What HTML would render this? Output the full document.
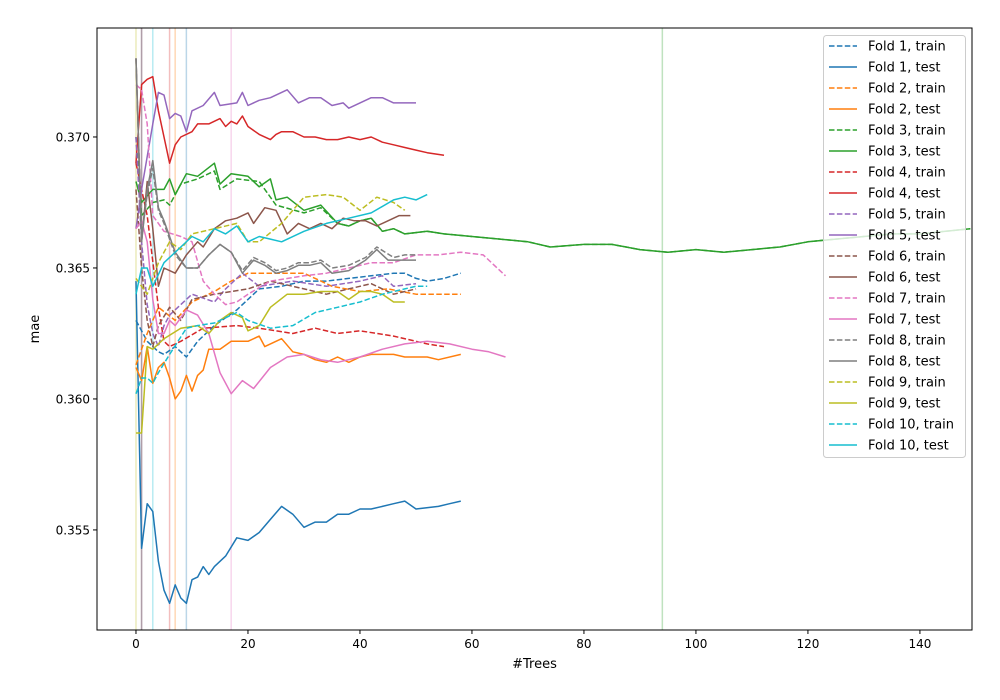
<!DOCTYPE html>
<html><head><meta charset="utf-8"><style>
html,body{margin:0;padding:0;background:#fff;}
svg{display:block;font-family:"DejaVu Sans","Liberation Sans",sans-serif;}
</style></head><body>
<svg id="chart" width="1000" height="700" viewBox="0 0 1000 700" xmlns="http://www.w3.org/2000/svg">
<rect width="1000" height="700" fill="#fff"/>
<g id="vlines"></g>
<g id="series"></g>
<g id="axes"></g>
<g id="legend"></g>
</svg>
<script>
const xTicks=[0,20,40,60,80,100,120,140];
const yTicks=[0.355,0.360,0.365,0.370];
const foldNames=["Fold 1","Fold 2","Fold 3","Fold 4","Fold 5","Fold 6","Fold 7","Fold 8","Fold 9","Fold 10"];
const bestIter=[9,7,94,6,1,1,17,1,0,3];
const f1TrainX=[0,2,4,5,7,9,11,14,18,22,26,30,34,38,42,46,48,50,52,55,58];
const f1TrainY=[0.3630,0.3622,0.3618,0.3617,0.3620,0.3616,0.3622,0.3628,0.3634,0.3642,0.3643,0.3645,0.3645,0.3646,0.3647,0.3648,0.3648,0.3646,0.3645,0.3646,0.3648];
const f1TestX=[0,1,2,3,4,5,6,7,8,9,10,11,12,13,14,16,18,20,22,24,26,28,30,32,34,36,38,40,42,44,46,48,50,54,56,58];
const f1TestY=[0.3645,0.3543,0.3560,0.3557,0.3538,0.3527,0.3522,0.3529,0.3524,0.3522,0.3531,0.3532,0.3536,0.3533,0.3536,0.3540,0.3547,0.3546,0.3549,0.3554,0.3559,0.3556,0.3551,0.3553,0.3553,0.3556,0.3556,0.3558,0.3558,0.3559,0.3560,0.3561,0.3558,0.3559,0.3560,0.3561];
const f2TrainX=[0,2,4,7,10,14,17,20,25,30,35,40,45,50,54,58];
const f2TrainY=[0.3613,0.3625,0.3635,0.3630,0.3637,0.3641,0.3645,0.3648,0.3648,0.3648,0.3643,0.3641,0.3642,0.3640,0.3640,0.3640];
const f2TestX=[0,1,2,3,4,5,6,7,8,9,10,11,12,13,15,17,20,22,23,26,28,30,32,34,36,38,40,42,44,46,48,52,54,58];
const f2TestY=[0.3612,0.3607,0.3620,0.3606,0.3612,0.3614,0.3608,0.3600,0.3603,0.3609,0.3603,0.3609,0.3611,0.3619,0.3619,0.3622,0.3622,0.3624,0.3620,0.3623,0.3618,0.3617,0.3615,0.3614,0.3616,0.3614,0.3616,0.3617,0.3617,0.3617,0.3616,0.3616,0.3615,0.3617];
const f3TrainX=[0,1,3,5,6,8,11,14,15,18,22,25,30,33,36,38,40,42,44,46,48,52,55,60,65,70,74,80,85,90,95,100,105,110,115,120,125,130,135,140,149];
const f3TrainY=[0.3700,0.3670,0.3675,0.3676,0.3674,0.3682,0.3684,0.3687,0.3680,0.3684,0.3683,0.3674,0.3671,0.3673,0.3667,0.3666,0.3668,0.3669,0.3664,0.3665,0.3663,0.3664,0.3663,0.3662,0.3661,0.3660,0.3658,0.3659,0.3659,0.3657,0.3656,0.3657,0.3656,0.3657,0.3658,0.3660,0.3661,0.3662,0.3663,0.3663,0.3665];
const f3TestX=[0,1,3,5,6,7,9,11,14,15,17,20,22,24,25,27,30,33,36,38,40,42,44,46,48,52,55,60,65,70,74,80,85,90,95,100,105,110,115,120,125,130,135,140,149];
const f3TestY=[0.3683,0.3675,0.3680,0.3680,0.3684,0.3678,0.3686,0.3685,0.3690,0.3682,0.3686,0.3685,0.3681,0.3684,0.3676,0.3677,0.3672,0.3674,0.3667,0.3666,0.3668,0.3669,0.3664,0.3665,0.3663,0.3664,0.3663,0.3662,0.3661,0.3660,0.3658,0.3659,0.3659,0.3657,0.3656,0.3657,0.3656,0.3657,0.3658,0.3660,0.3661,0.3662,0.3663,0.3663,0.3665];
const f4TrainX=[0,2,4,5,6,8,12,18,22,28,32,36,40,46,52,55];
const f4TrainY=[0.3690,0.3670,0.3635,0.3622,0.3620,0.3622,0.3627,0.3628,0.3627,0.3625,0.3627,0.3625,0.3626,0.3624,0.3621,0.3620];
const f4TestX=[0,1,2,3,4,5,6,7,8,10,11,13,15,16,17,18,19,20,22,24,25,26,28,30,32,34,36,38,40,42,44,46,48,50,52,55];
const f4TestY=[0.3690,0.3720,0.3722,0.3723,0.3710,0.3700,0.3690,0.3697,0.3700,0.3702,0.3705,0.3705,0.3707,0.3704,0.3706,0.3705,0.3708,0.3704,0.3701,0.3699,0.3701,0.3702,0.3702,0.3700,0.3700,0.3699,0.3699,0.3700,0.3699,0.3700,0.3698,0.3697,0.3696,0.3695,0.3694,0.3693];
const f5TrainX=[0,1,2,3,4,5,6,8,10,14,16,19,22,28,34,40,44,46,50];
const f5TrainY=[0.3700,0.3660,0.3636,0.3625,0.3620,0.3628,0.3632,0.3636,0.3640,0.3637,0.3642,0.3648,0.3643,0.3645,0.3643,0.3645,0.3647,0.3643,0.3644];
const f5TestX=[0,1,3,4,5,6,7,8,9,10,12,14,15,18,19,20,22,24,27,29,31,33,35,37,38,40,42,44,46,48,50];
const f5TestY=[0.3665,0.3680,0.3705,0.3717,0.3716,0.3707,0.3709,0.3708,0.3702,0.3710,0.3712,0.3717,0.3712,0.3713,0.3717,0.3712,0.3714,0.3715,0.3718,0.3713,0.3715,0.3715,0.3712,0.3713,0.3711,0.3713,0.3715,0.3715,0.3713,0.3713,0.3713];
const f6TrainX=[0,1,2,3,4,6,8,10,14,20,24,30,34,38,42,46,50];
const f6TrainY=[0.3680,0.3650,0.3630,0.3620,0.3628,0.3635,0.3630,0.3638,0.3640,0.3642,0.3645,0.3642,0.3640,0.3642,0.3644,0.3640,0.3642];
const f6TestX=[0,1,2,3,4,5,7,9,11,12,14,16,18,20,21,23,25,27,29,31,33,35,37,39,41,43,45,47,49];
const f6TestY=[0.3730,0.3660,0.3683,0.3665,0.3643,0.3650,0.3648,0.3655,0.3660,0.3658,0.3665,0.3668,0.3669,0.3671,0.3667,0.3673,0.3672,0.3663,0.3667,0.3665,0.3667,0.3665,0.3669,0.3668,0.3668,0.3666,0.3668,0.3670,0.3670];
const f7TrainX=[0,1,2,3,5,8,10,12,14,16,18,20,24,30,34,38,42,46,50,54,58,62,66];
const f7TrainY=[0.3720,0.3718,0.3705,0.3670,0.3664,0.3662,0.3660,0.3645,0.3640,0.3636,0.3637,0.3640,0.3645,0.3647,0.3648,0.3650,0.3652,0.3652,0.3655,0.3655,0.3656,0.3655,0.3647];
const f7TestX=[0,1,2,3,4,5,6,7,9,11,13,15,17,19,21,24,27,30,33,36,40,44,48,52,56,60,63,66];
const f7TestY=[0.3665,0.3668,0.3660,0.3638,0.3625,0.3625,0.3630,0.3628,0.3634,0.3632,0.3625,0.3610,0.3602,0.3607,0.3604,0.3612,0.3616,0.3617,0.3615,0.3614,0.3616,0.3619,0.3621,0.3622,0.3621,0.3619,0.3618,0.3616];
const f8TrainX=[0,1,2,3,4,5,7,9,11,13,15,17,19,21,23,25,27,29,31,33,35,38,41,43,46,48,50];
const f8TrainY=[0.3730,0.3662,0.3678,0.3688,0.3672,0.3667,0.3655,0.3650,0.3650,0.3655,0.3659,0.3656,0.3649,0.3654,0.3652,0.3649,0.3650,0.3652,0.3652,0.3653,0.3650,0.3651,0.3654,0.3658,0.3654,0.3655,0.3655];
const f8TestX=[0,1,2,3,4,5,7,9,11,13,15,17,19,21,23,25,27,29,31,33,35,38,41,43,45,48,50];
const f8TestY=[0.3730,0.3660,0.3680,0.3691,0.3673,0.3668,0.3656,0.3650,0.3650,0.3655,0.3659,0.3656,0.3648,0.3653,0.3651,0.3648,0.3649,0.3651,0.3651,0.3652,0.3648,0.3649,0.3653,0.3657,0.3653,0.3653,0.3653];
const f9TrainX=[0,2,4,6,8,10,14,18,20,22,26,30,34,37,40,43,46,48];
const f9TrainY=[0.3646,0.3640,0.3652,0.3660,0.3657,0.3663,0.3665,0.3667,0.3660,0.3660,0.3667,0.3677,0.3678,0.3677,0.3672,0.3677,0.3675,0.3672];
const f9TestX=[0,1,2,3,5,8,11,13,15,17,19,20,22,24,27,30,33,36,38,40,42,44,46,48];
const f9TestY=[0.3587,0.3587,0.3620,0.3619,0.3623,0.3627,0.3628,0.3625,0.3630,0.3633,0.3631,0.3626,0.3628,0.3635,0.3640,0.3640,0.3641,0.3641,0.3638,0.3641,0.3641,0.3640,0.3637,0.3637];
const f10TrainX=[0,1,2,3,4,6,9,11,14,18,20,24,28,32,36,40,44,48,50,52];
const f10TrainY=[0.3602,0.3608,0.3608,0.3606,0.3610,0.3617,0.3627,0.3628,0.3629,0.3633,0.3630,0.3627,0.3628,0.3633,0.3635,0.3637,0.3640,0.3642,0.3643,0.3643];
const f10TestX=[0,1,2,3,5,8,10,12,14,16,18,20,22,24,26,30,34,38,42,46,48,50,52];
const f10TestY=[0.3640,0.3650,0.3650,0.3643,0.3652,0.3658,0.3662,0.3660,0.3665,0.3663,0.3666,0.3660,0.3662,0.3661,0.3660,0.3664,0.3667,0.3669,0.3671,0.3676,0.3677,0.3676,0.3678];

const colors=["#1f77b4","#ff7f0e","#2ca02c","#d62728","#9467bd","#8c564b","#e377c2","#7f7f7f","#bcbd22","#17becf"];
const trainXs=[f1TrainX,f2TrainX,f3TrainX,f4TrainX,f5TrainX,f6TrainX,f7TrainX,f8TrainX,f9TrainX,f10TrainX];
const trainYs=[f1TrainY,f2TrainY,f3TrainY,f4TrainY,f5TrainY,f6TrainY,f7TrainY,f8TrainY,f9TrainY,f10TrainY];
const testXs=[f1TestX,f2TestX,f3TestX,f4TestX,f5TestX,f6TestX,f7TestX,f8TestX,f9TestX,f10TestX];
const testYs=[f1TestY,f2TestY,f3TestY,f4TestY,f5TestY,f6TestY,f7TestY,f8TestY,f9TestY,f10TestY];

const L=97,R=972,T=28,B=630;
const xMin=-6.96,xMax=149.3,yMin=0.35118,yMax=0.37416;
const sx=v=>L+(v-xMin)/(xMax-xMin)*(R-L);
const sy=v=>B-(v-yMin)/(yMax-yMin)*(B-T);
const NS="http://www.w3.org/2000/svg";
function mk(tag,attrs,parent){const e=document.createElementNS(NS,tag);for(const k in attrs)e.setAttribute(k,attrs[k]);parent.appendChild(e);return e;}

const gV=document.getElementById('vlines');
bestIter.forEach((b,i)=>{
  const l=mk('line',{x1:sx(b),x2:sx(b),y1:T,y2:B,stroke:colors[i],'stroke-opacity':0.3,'stroke-width':1.5},gV);
  
  
});

const gS=document.getElementById('series');
function drawLine(xs,ys,col,dash,name){
  const d=xs.map((x,j)=>(j?'L':'M')+sx(x).toFixed(1)+','+sy(ys[j]).toFixed(1)).join('');
  const p=mk('path',{d:d,fill:'none',stroke:col,'stroke-width':1.5,'stroke-linejoin':'round'},gS);
  if(dash)p.setAttribute('stroke-dasharray','5.5,2.4');
  
  
}
for(let i=0;i<10;i++){
  drawLine(trainXs[i],trainYs[i],colors[i],true,'fold-'+(i+1)+'-train-line');
  drawLine(testXs[i],testYs[i],colors[i],false,'fold-'+(i+1)+'-test-line');
}

const gA=document.getElementById('axes');
const frame=mk('rect',{x:L,y:T,width:R-L,height:B-T,fill:'none',stroke:'#000','stroke-width':1},gA);


xTicks.forEach(t=>{
  const x=sx(t);
  mk('line',{x1:x,x2:x,y1:B,y2:B+4,stroke:'#000'},gA);
  const tx=mk('text',{x:x,y:B+18,'text-anchor':'middle','font-size':12,fill:'#000'},gA);
  tx.textContent=t;
  
  
});
yTicks.forEach(t=>{
  const y=sy(t);
  mk('line',{x1:L-4,x2:L,y1:y,y2:y,stroke:'#000'},gA);
  const tx=mk('text',{x:L-7,y:y+4.5,'text-anchor':'end','font-size':12,fill:'#000'},gA);
  tx.textContent=t.toFixed(3);
  
  
});
const xl=mk('text',{x:(L+R)/2,y:668,'text-anchor':'middle','font-size':13,fill:'#000'},gA);
xl.textContent='#Trees';


const yl=mk('text',{x:39,y:329,'text-anchor':'middle','font-size':13,fill:'#000',transform:'rotate(-90 39 329)'},gA);
yl.textContent='mae';



const gL=document.getElementById('legend');
const lb=mk('rect',{x:823.5,y:35.5,width:142,height:422,fill:'#fff','fill-opacity':0.8,stroke:'#ccc',rx:3},gL);


let k=0;
for(let i=0;i<10;i++){
  ['train','test'].forEach(kind=>{
    const y=46+k*21;
    const g=mk('g',{},gL);
    
    
    const ln=mk('line',{x1:829,x2:857,y1:y,y2:y,stroke:colors[i],'stroke-width':1.5},g);
    if(kind==='train')ln.setAttribute('stroke-dasharray','5.5,2.4');
    const tx=mk('text',{x:868,y:y+4.5,'font-size':13,fill:'#000'},g);
    tx.textContent=foldNames[i]+', '+kind;
    k++;
  });
}
</script>
</body></html>
